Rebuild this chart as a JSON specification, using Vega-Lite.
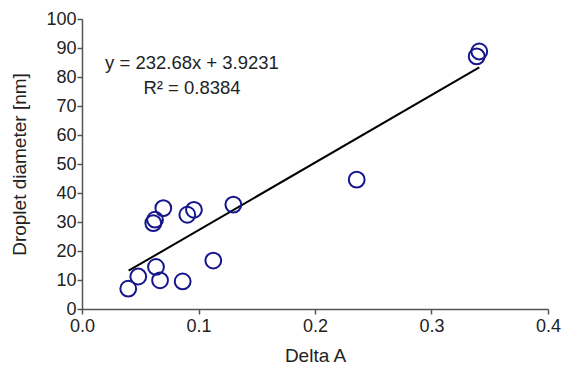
{
  "$schema": "https://vega.github.io/schema/vega-lite/v6.json",
  "width": 466,
  "height": 290,
  "autosize": {"type": "none"},
  "padding": {"left": 82, "top": 19, "right": 16, "bottom": 57},
  "background": "white",
  "config": {
    "view": {"stroke": null},
    "font": "Liberation Sans",
    "axis": {
      "grid": false,
      "domainColor": "#555555",
      "tickColor": "#555555",
      "domainWidth": 1.5,
      "tickWidth": 1.5,
      "tickSize": 5,
      "labelColor": "#222222",
      "titleColor": "#222222",
      "labelFont": "Liberation Sans",
      "titleFont": "Liberation Sans",
      "labelFontSize": 18,
      "titleFontSize": 19,
      "titleFontWeight": "normal",
      "labelFlush": false,
      "labelOverlap": false
    }
  },
  "datasets": {
    "points": [
      {"deltaA": 0.0397, "diameter": 7.0},
      {"deltaA": 0.0483, "diameter": 11.2},
      {"deltaA": 0.0612, "diameter": 29.6},
      {"deltaA": 0.0627, "diameter": 30.8},
      {"deltaA": 0.0635, "diameter": 14.5},
      {"deltaA": 0.0670, "diameter": 9.9},
      {"deltaA": 0.0698, "diameter": 34.8},
      {"deltaA": 0.0864, "diameter": 9.5},
      {"deltaA": 0.0904, "diameter": 32.5},
      {"deltaA": 0.0961, "diameter": 34.2},
      {"deltaA": 0.1127, "diameter": 16.7},
      {"deltaA": 0.1299, "diameter": 36.0},
      {"deltaA": 0.2358, "diameter": 44.6},
      {"deltaA": 0.3388, "diameter": 87.1},
      {"deltaA": 0.3410, "diameter": 88.8}
    ],
    "trend": [
      {"deltaA": 0.040, "diameter": 13.2},
      {"deltaA": 0.341, "diameter": 83.3}
    ],
    "labels": [
      {"deltaA": 0.0944, "diameter": 84.9, "text": "y = 232.68x + 3.9231"},
      {"deltaA": 0.0944, "diameter": 76.3, "text": "R² = 0.8384"}
    ]
  },
  "encoding": {
    "x": {
      "field": "deltaA", "type": "quantitative",
      "scale": {"domain": [0, 0.4], "nice": false},
      "axis": {"title": "Delta A", "values": [0, 0.1, 0.2, 0.3, 0.4], "format": ".1f", "titlePadding": 11, "labelPadding": 3}
    },
    "y": {
      "field": "diameter", "type": "quantitative",
      "scale": {"domain": [0, 100], "nice": false},
      "axis": {"title": "Droplet diameter [nm]", "values": [0, 10, 20, 30, 40, 50, 60, 70, 80, 90, 100], "titlePadding": 16, "labelPadding": 1}
    }
  },
  "layer": [
    {
      "data": {"name": "trend"},
      "mark": {"type": "line", "color": "#000000", "strokeWidth": 2}
    },
    {
      "data": {"name": "points"},
      "mark": {"type": "point", "shape": "circle", "filled": false, "color": "#16168c", "strokeWidth": 2, "size": 250, "opacity": 1}
    },
    {
      "data": {"name": "labels"},
      "mark": {"type": "text", "fontSize": 18.5, "color": "#222222", "align": "center", "baseline": "middle", "font": "Liberation Sans"},
      "encoding": {
        "text": {"field": "text"}
      }
    }
  ]
}
